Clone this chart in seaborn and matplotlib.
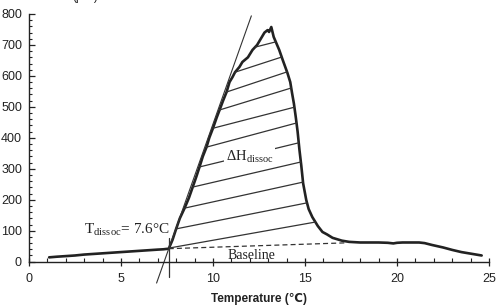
import numpy as np
import pandas as pd
import matplotlib
matplotlib.use("Agg")
import matplotlib.pyplot as plt
from matplotlib.ticker import MultipleLocator
import seaborn as sns

# DSC curve
temperature = [1.1, 1.5, 2.0, 2.5, 3.0, 3.5, 4.0, 4.5, 5.0, 5.5, 6.0, 6.5, 7.0, 7.3, 7.6,
               7.8, 8.0, 8.2, 8.46, 8.7, 8.9, 9.1, 9.27, 9.45, 9.65, 9.8, 10.0, 10.2, 10.36,
               10.55, 10.74, 10.9, 11.06, 11.2, 11.44, 11.6, 11.9, 12.15, 12.4, 12.6, 12.8,
               12.97, 13.05, 13.17, 13.3, 13.45, 13.6, 13.8, 14.05, 14.2, 14.3, 14.4, 14.5,
               14.6, 14.7, 14.8, 14.9, 15.07, 15.2, 15.4, 15.7, 15.95, 16.2, 16.5, 17.0, 17.4,
               18.0, 18.5, 19.0, 19.5, 19.8, 20.0, 20.3, 20.8, 21.2, 21.5, 21.9, 22.5, 23.0,
               23.5, 24.0, 24.6]
heat_flow = [14, 16, 18, 20, 23, 25, 27, 29, 31, 33, 35, 37, 39, 40, 42,
             70, 106, 140, 173, 207, 241, 275, 306, 340, 370, 400, 431, 465, 490,
             520, 548, 580, 596, 612, 629, 645, 660, 684, 700, 720, 740,
             748, 742, 758, 726, 705, 684, 650, 609, 580, 544, 510, 467,
             420, 361, 310, 253, 199, 170, 144, 115, 96, 88, 77, 68, 64,
             62, 62, 62, 61, 59, 61, 62, 62, 62, 60, 54, 46, 38,
             31, 26, 20]

# onset / baseline
t_onset = 7.6
v_onset = 42
tangent_slope = 167.6
tangent_range = [-69, 794]
baseline_end = (17.3, 61)

# hatch lines: heat flow where each line meets the rising and the falling side
hatch_left = [44, 106, 173, 241, 306, 370, 431, 490, 548, 612, 693]
hatch_right = [128, 190, 257, 322, 384, 448, 499, 561, 613, 661, 710]

df = pd.DataFrame({"Temperature": temperature, "Heat": heat_flow})

sns.set_style("ticks")
plt.rcParams["font.family"] = ["Liberation Sans", "DejaVu Sans"]
plt.rcParams["mathtext.fontset"] = "custom"
plt.rcParams["mathtext.rm"] = "Liberation Serif"

fig = plt.figure(figsize=(4.98, 3.07), dpi=100)
ax = fig.add_axes([0.058, 0.1476, 0.924, 0.8068])

ink = "#222222"
sns.lineplot(data=df, x="Temperature", y="Heat", ax=ax, color=ink, lw=1.9,
             sort=False, estimator=None)

# branches for placing the hatch lines
T = np.array(temperature, dtype=float)
V = np.array(heat_flow, dtype=float)
ipk = int(np.argmax(V))
rise_T, rise_V = T[14:ipk - 1], V[14:ipk - 1]
fall_T, fall_V = T[ipk:66][::-1], V[ipk:66][::-1]
for vl, vr in zip(hatch_left, hatch_right):
    tl = np.interp(vl, rise_V, rise_T)
    tr = np.interp(vr, fall_V, fall_T)
    ax.plot([tl, tr], [vl, vr], color="#333333", lw=0.9)

# tangent and onset marker
tt = [t_onset + (v - v_onset) / tangent_slope for v in tangent_range]
ax.plot(tt, tangent_range, color="#333333", lw=0.8, clip_on=False)
ax.plot([t_onset, t_onset], [-50, 76], color="#333333", lw=0.9, clip_on=False)
ax.plot([t_onset, baseline_end[0]], [v_onset, baseline_end[1]], color="#333333",
        lw=0.9, ls=(0, (4, 2.5)))

serif = ["Liberation Serif", "DejaVu Serif"]
ax.text(7.65, 105, r"T$_\mathrm{dissoc}$= 7.6°C", ha="right", va="center",
        fontsize=11, family=serif, color=ink)
ax.text(11.98, 338, r"ΔH$_\mathrm{dissoc}$", ha="center", va="center",
        fontsize=10.5, family=serif, color=ink,
        bbox=dict(facecolor="white", edgecolor="none", pad=1.5))
ax.text(12.07, 21, "Baseline", ha="center", va="center", fontsize=10,
        family=serif, color=ink)

ax.set_xlim(0, 25)
ax.set_ylim(0, 800)
ax.xaxis.set_major_locator(MultipleLocator(5))
ax.xaxis.set_minor_locator(MultipleLocator(1))
ax.yaxis.set_major_locator(MultipleLocator(100))
ax.yaxis.set_minor_locator(MultipleLocator(20))
ax.tick_params(axis="x", which="major", direction="inout", length=6, width=0.9,
               labelsize=9, pad=5, colors=ink)
ax.tick_params(axis="x", which="minor", direction="in", length=3, width=0.8, colors=ink)
ax.tick_params(axis="y", which="major", direction="in", length=4, width=0.9,
               labelsize=9, pad=5, colors=ink)
ax.tick_params(axis="y", which="minor", direction="in", length=2.5, width=0.8, colors=ink)
for s in ["top", "right"]:
    ax.spines[s].set_visible(False)
for s in ["left", "bottom"]:
    ax.spines[s].set_color(ink)
    ax.spines[s].set_linewidth(1.0)

ax.set_xlabel("Temperature (℃)", fontsize=8.5, fontweight="bold", color=ink,
              labelpad=6)
ax.set_ylabel("")
fig.text(0.145, 1 - 3 / 307, "(μW)", fontsize=8.5, va="bottom", color=ink)

fig.savefig("out.png", dpi=100)
